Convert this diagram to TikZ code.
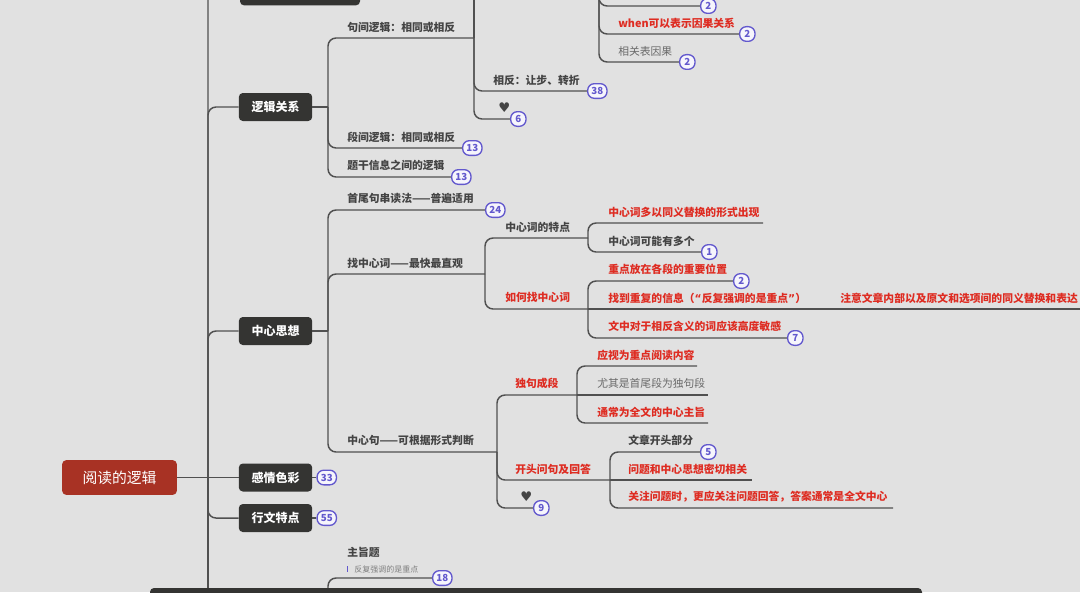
\documentclass[tikz,border=0pt]{standalone}
\usepackage{fontspec}
\setmainfont{Noto Sans CJK SC}
\newfontfamily\symf{DejaVu Sans}
\usetikzlibrary{positioning}
\definecolor{bgcol}{RGB}{225,225,225}
\definecolor{linecol}{RGB}{80,80,80}
\definecolor{boxdark}{RGB}{52,52,50}
\definecolor{rootred}{RGB}{168,50,36}
\definecolor{txtred}{RGB}{222,44,34}
\definecolor{txtdark}{RGB}{68,68,68}
\definecolor{txtgray}{RGB}{105,105,105}
\definecolor{badgecol}{RGB}{98,88,205}
\tikzset{
  rootbox/.style={fill=rootred,rounded corners=3pt,text=white,minimum width=86pt,minimum height=26pt,font=\fontsize{11.1}{13}\selectfont},
  mainbox/.style={fill=boxdark,rounded corners=3pt,text=white,minimum width=55pt,minimum height=21pt,inner sep=0pt,font=\bfseries\fontsize{9}{11}\selectfont},
  topic/.style={anchor=west,inner sep=0pt,text=txtdark,font=\bfseries\fontsize{8.1}{10}\selectfont},
  redtopic/.style={topic,text=txtred},
  graytopic/.style={topic,text=txtgray,font=\fontsize{8.1}{10}\selectfont},
  badge/.style={draw=badgecol,line width=1pt,fill=white!94!badgecol,rounded corners=5pt,text=badgecol,minimum width=11.5pt,minimum height=11pt,inner xsep=2.8pt,inner ysep=0pt,font=\bfseries\fontsize{7.3}{8}\selectfont},
  branch/.style={draw=linecol,line width=1.1pt,rounded corners=6pt},
}
\begin{document}
\begin{tikzpicture}[x=0.75pt,y=-0.75pt]
\useasboundingbox (0,0) rectangle (1080,592);
\clip (0,0) rectangle (1080,592);
\fill[bgcol] (0,0) rectangle (1080,592);

\node[rootbox] (root) at (119.5,477.5) {阅读的逻辑};
\coordinate (hub) at (208,477.5);
\coordinate (trunkend) at (208,610);

\node[mainbox,minimum width=90pt,minimum height=23pt] (topbox) at (300,-10) {};
\node[mainbox] (ljgx) at (275.5,107) {逻辑关系};
\node[mainbox] (zxsx) at (275.5,331) {中心思想};
\node[mainbox] (gqsc) at (275.5,477.5) {感情色彩};
\node[mainbox,below=9pt of gqsc] (xwtd) {行文特点};
\node[badge,right=3pt of gqsc] (n33) {33};
\node[badge,right=3pt of xwtd] (n55) {55};

\draw[branch] (root.east) -- (hub);
\draw[branch] (hub) |- (topbox.west);
\draw[branch] (hub) |- (ljgx.west);
\draw[branch] (hub) |- (zxsx.west);
\draw[branch] (hub) -- (gqsc.west);
\draw[branch] (hub) |- (xwtd.west);
\draw[branch] (hub) -- (trunkend);
\draw[branch] (gqsc.east) -- (n33);
\draw[branch] (xwtd.east) -- (n55);

% logic relations
\coordinate (j1) at (328,107);
\coordinate (j1a) at (474,38);
\coordinate (j1up) at (474,-20);
\node[topic] (jjlj) at (347,27) {句间逻辑：相同或相反};
\node[topic] (xfrb) at (493,80) {相反：让步、转折};
\node[topic,font=\symf\fontsize{10}{11}\selectfont] (heart1) at (498,108) {♥};
\node[topic] (djlj) at (347,137) {段间逻辑：相同或相反};
\node[topic] (tgxx) at (347,165) {题干信息之间的逻辑};
\node[badge,anchor=west] (n38) at (587,91) {38};
\node[badge,anchor=west] (n6) at (510,119) {6};
\node[badge,anchor=west] (n13a) at (462,148) {13};
\node[badge,anchor=west] (n13b) at (451,177) {13};
\draw[branch] (ljgx.east) -- (j1);
\draw[branch] (j1) |- (j1a);
\draw[branch] (j1) |- (n13a);
\draw[branch] (j1) |- (n13b);
\draw[branch] (j1a) -- (j1up);
\draw[branch] (j1a) |- (n38);
\draw[branch] (j1a) |- (n6);

\coordinate (j2) at (599,-20);
\node[redtopic] (when) at (618,23) {when可以表示因果关系};
\node[graytopic] (xgb) at (618,51) {相关表因果};
\node[badge,anchor=west] (n2a) at (700,6) {2};
\node[badge,anchor=west] (n2b) at (739,34) {2};
\node[badge,anchor=west] (n2c) at (679,62) {2};
\draw[branch] (j2) |- (n2a);
\draw[branch] (j2) |- (n2b);
\draw[branch] (j2) |- (n2c);

% main idea
\coordinate (j3) at (328,331);
\coordinate (j4) at (485,274);
\coordinate (j7) at (497,452);
\node[topic] (swj) at (347,198) {首尾句串读法——普遍适用};
\node[topic] (zzxc) at (347,263) {找中心词——最快最直观};
\node[topic] (zxj) at (347,440) {中心句——可根据形式判断};
\node[badge,anchor=west] (n24) at (485,210) {24};
\draw[branch] (zxsx.east) -- (j3);
\draw[branch] (j3) |- (n24);
\draw[branch] (j3) |- (j4);
\draw[branch] (j3) |- (j7);

\coordinate (j5) at (588,238);
\coordinate (j6) at (588,309);
\node[topic] (tedian) at (505,227) {中心词的特点};
\node[redtopic] (ruhe) at (505,297) {如何找中心词};
\draw[branch] (j4) |- (j5);
\draw[branch] (j4) |- (j6);

\coordinate (e1) at (763,223);
\node[redtopic] (tyth) at (608,212) {中心词多以同义替换的形式出现};
\node[topic] (dgzx) at (608,241) {中心词可能有多个};
\node[badge,anchor=west] (n1) at (701,252) {1};
\draw[branch] (j5) |- (e1);
\draw[branch] (j5) |- (n1);

\coordinate (j8) at (821,309);
\coordinate (e2) at (1095,309);
\node[redtopic] (zdwz) at (608,269) {重点放在各段的重要位置};
\node[redtopic] (cfxx) at (608,298) {找到重复的信息（{\symf“}反复强调的是重点{\symf”}）};
\node[redtopic] (zywz) at (840,298) {注意文章内部以及原文和选项间的同义替换和表达};
\node[redtopic] (xfhy) at (608,326) {文中对于相反含义的词应该高度敏感};
\node[badge,anchor=west] (n2d) at (733,281) {2};
\node[badge,anchor=west] (n7) at (787,338) {7};
\draw[branch] (j6) |- (n2d);
\draw[branch] (j6) -- (j8);
\draw[branch] (j8) -- (e2);
\draw[branch] (j6) |- (n7);

\coordinate (j9) at (577,395);
\coordinate (j10) at (610,480);
\node[redtopic] (djcd) at (515,383) {独句成段};
\node[redtopic] (ktwj) at (515,469) {开头问句及回答};
\node[topic,font=\symf\fontsize{10}{11}\selectfont] (heart2) at (520,497) {♥};
\node[badge,anchor=west] (n9) at (533,508) {9};
\draw[branch] (j7) |- (j9);
\draw[branch] (j7) |- (j10);
\draw[branch] (j7) |- (n9);

\coordinate (e3) at (697,366);
\coordinate (e4) at (708,395);
\coordinate (e5) at (708,423);
\node[redtopic] (yssw) at (597,355) {应视为重点阅读内容};
\node[graytopic] (yqss) at (597,383) {尤其是首尾段为独句段};
\node[redtopic] (tcww) at (597,412) {通常为全文的中心主旨};
\draw[branch] (j9) |- (e3);
\draw[branch] (j9) -- (e4);
\draw[branch] (j9) |- (e5);

\coordinate (e6) at (752,480);
\coordinate (e7) at (893,508);
\node[topic] (wzkt) at (628,440) {文章开头部分};
\node[redtopic] (wtmq) at (628,469) {问题和中心思想密切相关};
\node[redtopic] (gzwt) at (628,497) {关注问题时，更应关注问题回答，答案通常是全文中心};
\node[badge,anchor=west] (n5) at (700,452) {5};
\draw[branch] (j10) |- (n5);
\draw[branch] (j10) -- (e6);
\draw[branch] (j10) |- (e7);

% main point questions
\coordinate (j11) at (328,610);
\node[topic] (zzt) at (347,552) {主旨题};
\node[graytopic,font=\fontsize{6}{7}\selectfont,text=txtgray!85] (fhqd) at (354,569) {反复强调的是重点};
\draw[badgecol,line width=1pt] ([xshift=-5pt,yshift=-1pt]fhqd.north west) -- ([xshift=-5pt,yshift=1pt]fhqd.south west);
\node[badge,anchor=west] (n18) at (432,578) {18};
\draw[branch] (j11) |- (n18);

\fill[boxdark,rounded corners=3pt] (150,588) rectangle (922,606);

\end{tikzpicture}
\end{document}
